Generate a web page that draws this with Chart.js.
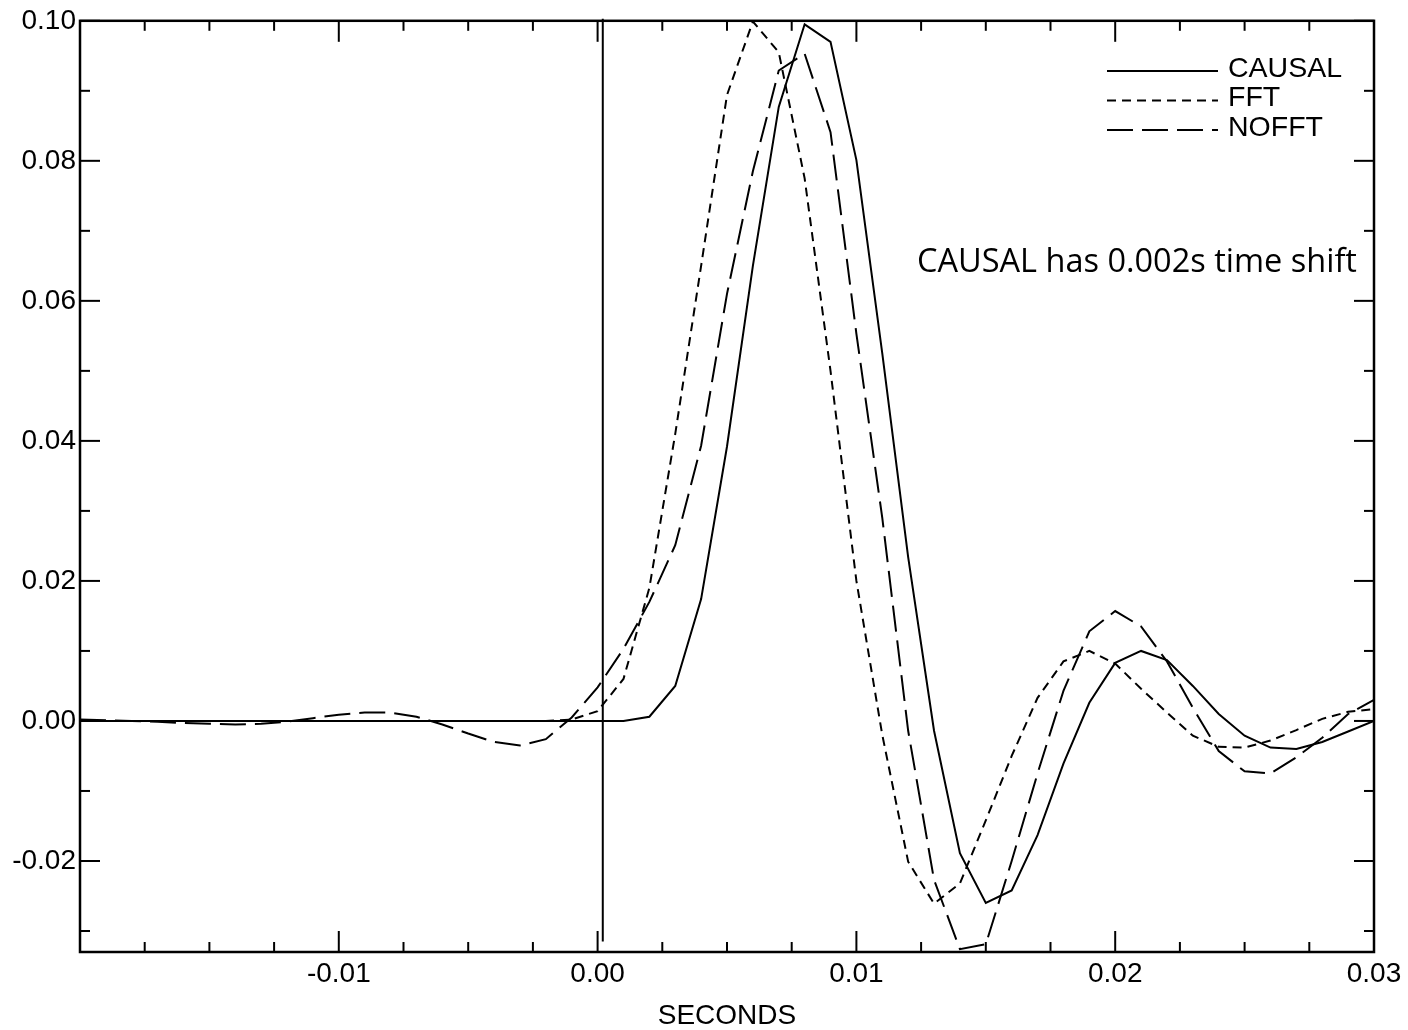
<!DOCTYPE html>
<html>
<head>
<meta charset="utf-8">
<script src="https://cdn.jsdelivr.net/npm/chart.js@4.4.1/dist/chart.umd.min.js"></script>
<style>
  html, body { margin: 0; padding: 0; background: #ffffff; }
  #wrap { width: 1408px; height: 1030px; position: relative; }
</style>
</head>
<body>
<div id="wrap"><canvas id="c" width="1408" height="1030"></canvas></div>
<script>
// ---------------- data ----------------
const seconds = [
  -0.020, -0.019, -0.018, -0.017, -0.016, -0.015, -0.014, -0.013, -0.012, -0.011,
  -0.010, -0.009, -0.008, -0.007, -0.006, -0.005, -0.004, -0.003, -0.002, -0.001,
   0.000,  0.001,  0.002,  0.003,  0.004,  0.005,  0.006,  0.007,  0.008,  0.009,
   0.010,  0.011,  0.012,  0.013,  0.014,  0.015,  0.016,  0.017,  0.018,  0.019,
   0.020,  0.021,  0.022,  0.023,  0.024,  0.025,  0.026,  0.027,  0.028,  0.029,
   0.030
];

const causal = [
  0, 0, 0, 0, 0, 0, 0, 0, 0, 0,
  0, 0, 0, 0, 0, 0, 0, 0, 0, 0,
  0, 0, 0.0006, 0.0050, 0.0174, 0.0392, 0.0650, 0.0877, 0.0995, 0.0970,
  0.0801, 0.0525, 0.0234, -0.0014, -0.0189, -0.0260, -0.0242, -0.0163, -0.0061, 0.0026,
  0.0083, 0.0100, 0.0087, 0.0050, 0.0010, -0.0021, -0.0038, -0.0040, -0.0030, -0.0015,
  0.0000
];

const fft = [
  0, 0, 0, 0, 0, 0, 0, 0, 0, 0,
  0, 0, 0, 0, 0, 0, 0, 0, 0, 0.0002,
  0.0014, 0.0060, 0.0190, 0.0410, 0.0650, 0.0894, 0.0999, 0.0955, 0.0775, 0.0500,
  0.0200, -0.0020, -0.0201, -0.0261, -0.0232, -0.0142, -0.0050, 0.0033, 0.0085, 0.0100,
  0.0082, 0.0046, 0.0012, -0.0021, -0.0037, -0.0038, -0.0028, -0.0013, 0.0003, 0.0013,
  0.0017
];

const nofft = [
  0.0002, 0.0001, 0.0000, -0.0001, -0.0003, -0.0004, -0.0005, -0.0004, -0.0001, 0.0004,
  0.0009, 0.0012, 0.0012, 0.0006, -0.0005, -0.0018, -0.0030, -0.0035, -0.0026, 0.0005,
  0.0048, 0.0103, 0.0170, 0.0251, 0.0393, 0.0610, 0.0785, 0.0929, 0.0953, 0.0841,
  0.0553, 0.0290, -0.0014, -0.0227, -0.0326, -0.0319, -0.0200, -0.0075, 0.0043, 0.0128,
  0.0157, 0.0135, 0.0085, 0.0019, -0.0043, -0.0072, -0.0075, -0.0052, -0.0024, 0.0010,
  0.0030
];

// vertical marker near zero
const markerX = [0.0002, 0.0002];
const markerY = [0.1003, -0.0315];

const seriesNames = ['CAUSAL', 'FFT', 'NOFFT'];
const xTickLabels = [-0.02, -0.01, 0.00, 0.01, 0.02, 0.03];
const yTickLabels = [-0.02, 0.00, 0.02, 0.04, 0.06, 0.08, 0.10];
const xTitle = 'SECONDS';
const noteText = 'CAUSAL has 0.002s time shift';

// ---------------- chart ----------------
const pts = (xs, ys) => xs.map((v, i) => ({ x: v, y: ys[i] }));
const LABEL_FONT = '"Liberation Sans", Arial, Helvetica, sans-serif';

const framePlugin = {
  id: 'frameTicks',
  afterDatasetsDraw(chart) {
    const { ctx, chartArea: { left, right, top, bottom }, scales: { x, y } } = chart;
    ctx.save();
    ctx.strokeStyle = '#000';
    ctx.lineCap = 'butt';
    ctx.lineWidth = 2;
    const seg = (x1, y1, x2, y2) => { ctx.beginPath(); ctx.moveTo(x1, y1); ctx.lineTo(x2, y2); ctx.stroke(); };
    for (let k = 0; k <= 20; k++) {
      const v = -0.02 + k * 0.0025;
      const p = x.getPixelForValue(v);
      const len = (k % 4 === 0) ? 21 : 10;
      seg(p, bottom, p, bottom - len);
      seg(p, top, p, top + len);
    }
    for (let k = -3; k <= 10; k++) {
      const v = k * 0.01;
      const p = y.getPixelForValue(v);
      if (p < top - 1 || p > bottom + 1) continue;
      const len = (k % 2 === 0) ? 20 : 10;
      seg(left, p, left + len, p);
      seg(right, p, right - len, p);
    }
    ctx.lineWidth = 2.5;
    ctx.strokeRect(left, top, right - left, bottom - top);

    // legend
    const ds = chart.data.datasets;
    const rows = [71, 100.5, 130];
    ctx.font = '28.5px ' + LABEL_FONT;
    ctx.fillStyle = '#000';
    ctx.textBaseline = 'middle';
    ctx.textAlign = 'left';
    for (let i = 0; i < 3; i++) {
      ctx.lineWidth = 2;
      ctx.setLineDash(ds[i].borderDash || []);
      seg(1107, rows[i], 1218, rows[i]);
      ctx.setLineDash([]);
      ctx.fillText(ds[i].label, 1228, rows[i] - 2);
    }
    // note
    ctx.font = '32.5px "Open Sans", sans-serif';
    ctx.textBaseline = 'alphabetic';
    ctx.fillText(noteText, 917, 272);
    ctx.restore();
  }
};

new Chart(document.getElementById('c'), {
  type: 'line',
  data: {
    datasets: [
      { label: seriesNames[0], data: pts(seconds, causal), borderColor: '#000', borderWidth: 2, borderDash: [], pointRadius: 0, tension: 0, fill: false },
      { label: seriesNames[1], data: pts(seconds, fft), borderColor: '#000', borderWidth: 2, borderDash: [9, 6], pointRadius: 0, tension: 0, fill: false },
      { label: seriesNames[2], data: pts(seconds, nofft), borderColor: '#000', borderWidth: 2, borderDash: [26, 9], pointRadius: 0, tension: 0, fill: false },
      { label: 'marker', data: pts(markerX, markerY), borderColor: '#000', borderWidth: 2, pointRadius: 0, tension: 0, fill: false, clip: false }
    ]
  },
  options: {
    responsive: false,
    animation: false,
    devicePixelRatio: 1,
    layout: { padding: { top: 15, right: 34, left: 0, bottom: 0 } },
    plugins: { legend: { display: false }, tooltip: { enabled: false } },
    scales: {
      x: {
        type: 'linear', min: -0.02, max: 0.03,
        grid: { display: false, drawTicks: false }, border: { display: false },
        afterFit(s) { s.height = 78; },
        afterBuildTicks(s) { s.ticks = xTickLabels.map(v => ({ value: v })); },
        ticks: {
          padding: 5, maxRotation: 0, autoSkip: false, color: '#000',
          font: { family: LABEL_FONT, size: 28 },
          callback: (v) => (Math.abs(v + 0.02) < 1e-9 ? '' : (Math.abs(v) < 1e-9 ? '0.00' : v.toFixed(2)))
        },
        title: { display: true, text: xTitle, color: '#000', font: { family: LABEL_FONT, size: 28, lineHeight: 1 }, padding: { top: 0, bottom: 0 } }
      },
      y: {
        type: 'linear', min: -0.033, max: 0.10,
        grid: { display: false, drawTicks: false }, border: { display: false },
        afterFit(s) { s.width = 80; },
        afterBuildTicks(s) { s.ticks = yTickLabels.map(v => ({ value: v })); },
        ticks: {
          padding: 4, autoSkip: false, color: '#000',
          font: { family: LABEL_FONT, size: 28 },
          callback: (v) => (Math.abs(v) < 1e-9 ? '0.00' : v.toFixed(2))
        }
      }
    }
  },
  plugins: [framePlugin]
});
</script>
</body>
</html>
